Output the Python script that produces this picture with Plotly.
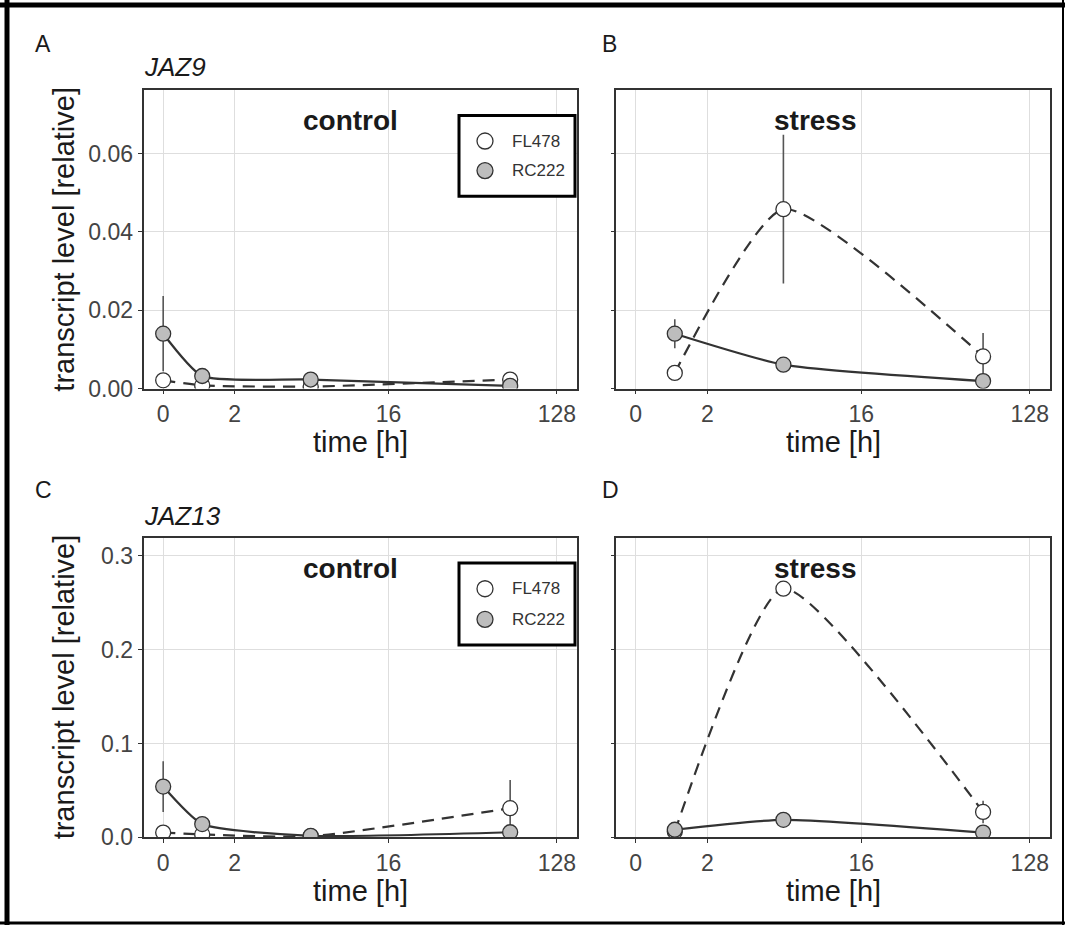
import numpy as np
import plotly.graph_objects as go

W, H = 1065, 938

# ---------------- data ----------------
time_control = [0, 1, 6, 72]
time_stress = [1, 6, 72]

jaz9_control_FL = [0.0021, 0.0008, 0.0005, 0.0023]
jaz9_control_FL_err = [0.0003, 0.0003, 0.0003, 0.0004]
jaz9_control_RC = [0.0140, 0.0032, 0.0023, 0.0007]
jaz9_control_RC_err = [0.0096, 0.0006, 0.0004, 0.0002]
jaz9_stress_FL = [0.0040, 0.0458, 0.0082]
jaz9_stress_FL_err = [0.0006, 0.0190, 0.0060]
jaz9_stress_RC = [0.0140, 0.0061, 0.0019]
jaz9_stress_RC_err = [0.0037, 0.0005, 0.0004]

jaz13_control_FL = [0.005, 0.003, 0.001, 0.031]
jaz13_control_FL_err = [0.001, 0.001, 0.0005, 0.030]
jaz13_control_RC = [0.054, 0.014, 0.0015, 0.0053]
jaz13_control_RC_err = [0.027, 0.003, 0.0005, 0.001]
jaz13_stress_FL = [0.006, 0.265, 0.027]
jaz13_stress_FL_err = [0.001, 0.004, 0.012]
jaz13_stress_RC = [0.008, 0.0186, 0.005]
jaz13_stress_RC_err = [0.001, 0.002, 0.001]

x_ticks = [0, 2, 16, 128]
x_ticklabels = ["0", "2", "16", "128"]
genotypes = ["FL478", "RC222"]
panel_letters = ["A", "B", "C", "D"]
genes = ["JAZ9", "JAZ13"]


def pseudo_log2(v):
    """ggplot2 pseudo_log_trans(sigma=1, base=2)"""
    return np.arcsinh(np.asarray(v, dtype=float) / 2.0) / np.log(2)


# ---------------- layout helpers ----------------
def px_x(p):
    return p / W


def px_y(p):
    return 1 - p / H


LINE_COL = "#333333"
FILL = {"FL478": "#ffffff", "RC222": "#bdbdbd"}
DASH = {"FL478": "12px,8px", "RC222": "solid"}

panels = [
    # (xaxis id, yaxis id, times, FL, FLerr, RC, RCerr)
    ("x", "y", time_control, jaz9_control_FL, jaz9_control_FL_err, jaz9_control_RC, jaz9_control_RC_err),
    ("x2", "y2", time_stress, jaz9_stress_FL, jaz9_stress_FL_err, jaz9_stress_RC, jaz9_stress_RC_err),
    ("x3", "y3", time_control, jaz13_control_FL, jaz13_control_FL_err, jaz13_control_RC, jaz13_control_RC_err),
    ("x4", "y4", time_stress, jaz13_stress_FL, jaz13_stress_FL_err, jaz13_stress_RC, jaz13_stress_RC_err),
]

fig = go.Figure()

for xa, ya, tms, fl, fle, rc, rce in panels:
    tx = pseudo_log2(tms)
    # lines first
    for g, vals in (("FL478", fl), ("RC222", rc)):
        fig.add_trace(go.Scatter(
            x=tx, y=vals, mode="lines", xaxis=xa, yaxis=ya,
            line=dict(color=LINE_COL, width=2.2, dash=DASH[g], shape="spline", smoothing=0.55),
            showlegend=False, hoverinfo="skip"))
    # points + error bars
    for g, vals, err in (("FL478", fl, fle), ("RC222", rc, rce)):
        fig.add_trace(go.Scatter(
            x=tx, y=vals, mode="markers", xaxis=xa, yaxis=ya,
            marker=dict(size=15, color=FILL[g], line=dict(color=LINE_COL, width=1.3)),
            error_y=dict(type="data", array=err, visible=True, color="#555555", thickness=1.6, width=0),
            showlegend=False, name=g))

# axes
xdom_left = [px_x(143.5), px_x(576.5)]
xdom_right = [px_x(616), px_x(1049.5)]
ydom_top = [px_y(394), px_y(91)]
ydom_bot = [px_y(849), px_y(546)]
xrange = [-0.35, 7.35]

common_axis = dict(
    showline=True, linecolor=LINE_COL, linewidth=1.6, mirror=True,
    showgrid=True, gridcolor="#dedede", gridwidth=1.2,
    ticks="outside", ticklen=4, tickwidth=1.3, tickcolor=LINE_COL,
    zeroline=False,
    tickfont=dict(family="Liberation Sans, Arial, sans-serif", size=23, color="#444444"),
)

axis_defs = [
    ("xaxis", "yaxis", xdom_left, ydom_top, "y", "x", [0, 0.0763], [0, 0.02, 0.04, 0.06], ".2f", True),
    ("xaxis2", "yaxis2", xdom_right, ydom_top, "y2", "x2", [0, 0.0763], [0, 0.02, 0.04, 0.06], ".2f", False),
    ("xaxis3", "yaxis3", xdom_left, ydom_bot, "y3", "x3", [0, 0.3186], [0, 0.1, 0.2, 0.3], ".1f", True),
    ("xaxis4", "yaxis4", xdom_right, ydom_bot, "y4", "x4", [0, 0.3186], [0, 0.1, 0.2, 0.3], ".1f", False),
]
lay = {}
for xk, yk, xd, yd, xanch, yanch, yr, yt, yfmt, ylabels in axis_defs:
    lay[xk] = dict(common_axis, domain=xd, anchor=xanch, range=xrange,
                   tickmode="array", tickvals=list(pseudo_log2(x_ticks)), ticktext=x_ticklabels)
    lay[yk] = dict(common_axis, domain=yd, anchor=yanch, range=yr,
                   tickmode="array", tickvals=yt, tickformat=yfmt, showticklabels=ylabels,
                   ticklen=4 if ylabels else 3)

FONT = "Liberation Sans, Arial, sans-serif"
ann = []


def text(x, y, s, size, bold=False, italic=False, xanchor="center", color="#1a1a1a", angle=0):
    ann.append(dict(
        x=px_x(x), y=px_y(y), xref="paper", yref="paper", text=s, showarrow=False,
        xanchor=xanchor, yanchor="middle", textangle=angle,
        font=dict(family=FONT, size=size, color=color,
                  weight="bold" if bold else "normal",
                  style="italic" if italic else "normal")))


# panel letters
text(33, 45, panel_letters[0], 23, xanchor="left")
text(600, 45, panel_letters[1], 23, xanchor="left")
text(33, 497, panel_letters[2], 23, xanchor="left")
text(600, 497, panel_letters[3], 23, xanchor="left")
# gene names
text(142, 68, genes[0], 26, italic=True, xanchor="left")
text(142, 523, genes[1], 26, italic=True, xanchor="left")
# condition labels
text(350, 122, "control", 28, bold=True)
text(815, 122, "stress", 28, bold=True)
text(350, 576, "control", 28, bold=True)
text(815, 576, "stress", 28, bold=True)
# axis titles
for cx in (360, 833):
    text(cx, 448, "time [h]", 29)
    text(cx, 904, "time [h]", 29)
text(64, 243, "transcript level [relative]", 29, angle=-90)
text(64, 697, "transcript level [relative]", 29, angle=-90)

shapes = []
# legends
for top, bot, y1, y2 in ((117, 199, 143, 173), (571, 654, 597, 628)):
    shapes.append(dict(type="rect", xref="paper", yref="paper",
                       x0=px_x(459), x1=px_x(575), y0=px_y(bot), y1=px_y(top),
                       line=dict(color="#000000", width=3), fillcolor="#ffffff", layer="above"))
    for g, yy in (("FL478", y1), ("RC222", y2)):
        shapes.append(dict(type="circle", xref="paper", yref="paper",
                           xsizemode="pixel", ysizemode="pixel",
                           xanchor=px_x(485), yanchor=px_y(yy),
                           x0=-8, x1=8, y0=-8, y1=8,
                           fillcolor=FILL[g], line=dict(color=LINE_COL, width=1.3), layer="above"))
        text(510, yy, g, 17, xanchor="left", color="#333333")

# outer frame
shapes.append(dict(type="line", xref="paper", yref="paper", x0=0, x1=1, y0=px_y(5), y1=px_y(5),
                   line=dict(color="#000", width=5)))
shapes.append(dict(type="line", xref="paper", yref="paper", x0=px_x(7), x1=px_x(7), y0=0, y1=1,
                   line=dict(color="#000", width=5)))
shapes.append(dict(type="line", xref="paper", yref="paper", x0=0, x1=1, y0=px_y(936), y1=px_y(936),
                   line=dict(color="#000", width=3)))
shapes.append(dict(type="line", xref="paper", yref="paper", x0=px_x(1063), x1=px_x(1063), y0=0, y1=1,
                   line=dict(color="#000", width=2)))

fig.update_layout(
    width=W, height=H, margin=dict(l=0, r=0, t=0, b=0),
    paper_bgcolor="#ffffff", plot_bgcolor="#ffffff",
    showlegend=False, annotations=ann, shapes=shapes, **lay)

fig.write_html("out.html")
